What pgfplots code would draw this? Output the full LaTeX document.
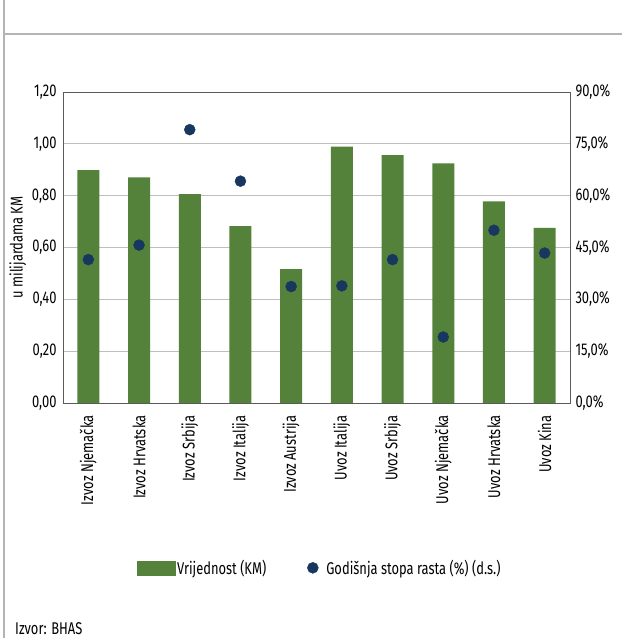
\documentclass[border=0pt]{standalone}
\usepackage{fontspec}
\setmainfont{Fira Sans}[FakeStretch=0.76]
\usepackage{pgfplots}
\pgfplotsset{compat=1.18}
\definecolor{barcol}{RGB}{84,130,59}
\definecolor{dotcol}{RGB}{23,55,94}
\definecolor{axcol}{RGB}{90,90,90}
\definecolor{gridcol}{RGB}{190,190,190}
\definecolor{framecol}{RGB}{180,180,180}
\newcommand{\lf}{\fontsize{17}{19}\selectfont}
\begin{document}
\begin{tikzpicture}[x=1pt,y=1pt]
\useasboundingbox (0,0) rectangle (622,638);
\draw[framecol, line width=1.3pt] (4,0) -- (4,638);
\draw[framecol, line width=1.3pt] (4,604) -- (622,604);
\begin{axis}[
  at={(63pt,235pt)}, anchor=south west,
  scale only axis, width=507pt, height=311pt,
  xmin=-0.5, xmax=9.5, ymin=0, ymax=1.2,
  ybar, bar width=22pt,
  axis line style={axcol, line width=0.9pt},
  major tick length=0pt,
  xtick={0,1,2,3,4,5,6,7,8,9},
  xticklabels={Izvoz Njemačka,Izvoz Hrvatska,Izvoz Srbija,Izvoz Italija,Izvoz Austrija,Uvoz Italija,Uvoz Srbija,Uvoz Njemačka,Uvoz Hrvatska,Uvoz Kina},
  xticklabel style={rotate=90, anchor=east, font=\lf},
  xticklabel shift=9pt,
  ytick={0,0.2,0.4,0.6,0.8,1.0,1.2},
  yticklabels={{0,00},{0,20},{0,40},{0,60},{0,80},{1,00},{1,20}},
  yticklabel style={font=\lf},
  yticklabel shift=3pt,
  ymajorgrids, grid style={gridcol, line width=0.8pt},
  ylabel={u milijardama KM}, ylabel style={font=\lf, yshift=-1pt},
]
\addplot[fill=barcol, draw=none] coordinates {
(0,0.899) (1,0.871) (2,0.806) (3,0.682) (4,0.517) (5,0.989) (6,0.956) (7,0.925) (8,0.778) (9,0.676)};
\end{axis}
\begin{axis}[
  at={(63pt,235pt)}, anchor=south west,
  scale only axis, width=507pt, height=311pt,
  xmin=-0.5, xmax=9.5, ymin=0, ymax=90,
  axis y line*=right, axis x line=none,
  axis line style={axcol, line width=0.9pt},
  major tick length=0pt,
  ytick={0,15,30,45,60,75,90},
  yticklabels={{0,0\%},{15,0\%},{30,0\%},{45,0\%},{60,0\%},{75,0\%},{90,0\%}},
  yticklabel style={font=\lf},
  yticklabel shift=2pt,
  legend style={at={(0.506,-0.53)}, anchor=center, draw=none, font=\lf, legend columns=2,
    /tikz/every even column/.append style={column sep=39pt}},
  legend cell align=left,
]
\addlegendimage{legend image code/.code={\fill[barcol] (0pt,-7pt) rectangle (38pt,7pt);}}
\addlegendentry{Vrijednost (KM)}
\addplot[only marks, mark=*, mark size=5.5pt, color=dotcol] coordinates {
(0,41.5) (1,45.7) (2,79.1) (3,64.2) (4,33.7) (5,33.9) (6,41.5) (7,19.1) (8,50.0) (9,43.4)};
\addlegendentry{\hspace{6pt}Godišnja stopa rasta (\%) (d.s.)}
\end{axis}
\node[anchor=base west, font=\lf, inner sep=0] at (15,4) {Izvor: BHAS};
\end{tikzpicture}
\end{document}
